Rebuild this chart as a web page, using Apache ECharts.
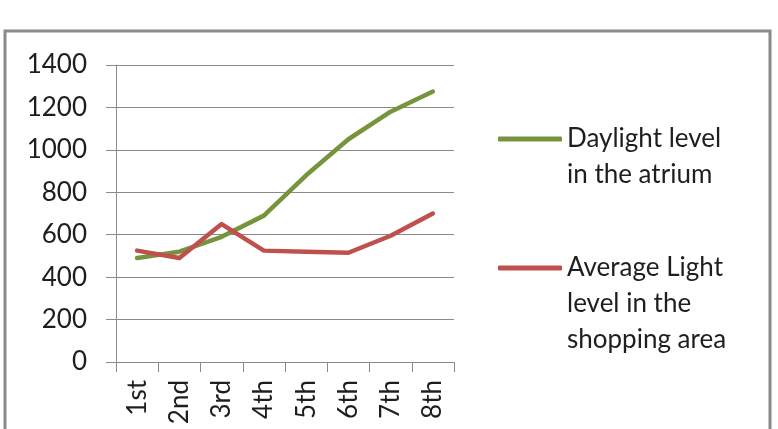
<!DOCTYPE html>
<html>
<head>
<meta charset="utf-8">
<script src="https://cdn.jsdelivr.net/npm/echarts@6/dist/echarts.min.js"></script>
<style>
  html, body { margin: 0; padding: 0; background: #fff; }
  #chart { width: 778px; height: 429px; }
</style>
</head>
<body>
<div id="chart"></div>
<script>
// floors and light levels
const floors = ['1st', '2nd', '3rd', '4th', '5th', '6th', '7th', '8th'];
const daylightAtrium = [490, 520, 590, 690, 880, 1050, 1180, 1275];
const avgShopping = [525, 490, 650, 525, 520, 515, 595, 700];
const seriesNames = ['Daylight level in the atrium', 'Average Light level in the shopping area'];
const legendLines = {
    'Daylight level in the atrium': ['Daylight level', 'in the atrium'],
    'Average Light level in the shopping area': ['Average Light', 'level in the', 'shopping area']
};

const fontName = 'Lato';
const textColor = '#1e1e1e';
const lineGray = '#8a8a8a';

const chart = echarts.init(document.getElementById('chart'));

// put the first text line level with the icon: pad blank lines on top
function legendText(name) {
    const lines = legendLines[name];
    const pad = [];
    for (let i = 0; i < lines.length - 1; i++) pad.push(' ');
    return pad.concat(lines).join('\n');
}

function makeLegend(name, top) {
    return {
        data: [name],
        left: 493,
        top: top,
        orient: 'vertical',
        icon: 'roundRect',
        itemWidth: 64,
        itemHeight: 5,
        itemGap: 0,
        formatter: legendText,
        textStyle: {
            fontFamily: fontName,
            fontSize: 26,
            lineHeight: 36,
            color: textColor
        }
    };
}

const option = {
    animation: false,
    graphic: [{
        type: 'rect',
        shape: { x: 5, y: 31, width: 765, height: 430 },
        style: { fill: 'none', stroke: lineGray, lineWidth: 3 },
        silent: true
    }],
    legend: [
        makeLegend(seriesNames[0], 80),
        makeLegend(seriesNames[1], 173)
    ],
    grid: {
        left: 116,
        right: 324,
        top: 65,
        bottom: 67,
        containLabel: false
    },
    xAxis: {
        type: 'category',
        data: floors,
        boundaryGap: true,
        axisLine: { lineStyle: { color: lineGray, width: 1 } },
        axisTick: { show: true, length: 10, lineStyle: { color: lineGray } },
        axisLabel: {
            rotate: 90,
            margin: 18,
            fontFamily: fontName,
            fontSize: 26,
            color: textColor
        },
        splitLine: { show: false }
    },
    yAxis: {
        type: 'value',
        min: 0,
        max: 1400,
        interval: 200,
        axisLine: { show: true, lineStyle: { color: lineGray, width: 1 } },
        axisTick: { show: true, length: 10, lineStyle: { color: lineGray } },
        axisLabel: {
            margin: 29,
            fontFamily: fontName,
            fontSize: 26,
            color: textColor,
            formatter: function (v) { return String(v); }
        },
        splitLine: { lineStyle: { color: lineGray, width: 1 } }
    },
    series: [
        {
            name: seriesNames[0],
            type: 'line',
            data: daylightAtrium,
            showSymbol: false,
            lineStyle: { color: '#77933c', width: 4.5, cap: 'round', join: 'round' },
            itemStyle: { color: '#77933c' }
        },
        {
            name: seriesNames[1],
            type: 'line',
            data: avgShopping,
            showSymbol: false,
            lineStyle: { color: '#c0504d', width: 4.5, cap: 'round', join: 'round' },
            itemStyle: { color: '#c0504d' }
        }
    ]
};

chart.setOption(option);
</script>
</body>
</html>
